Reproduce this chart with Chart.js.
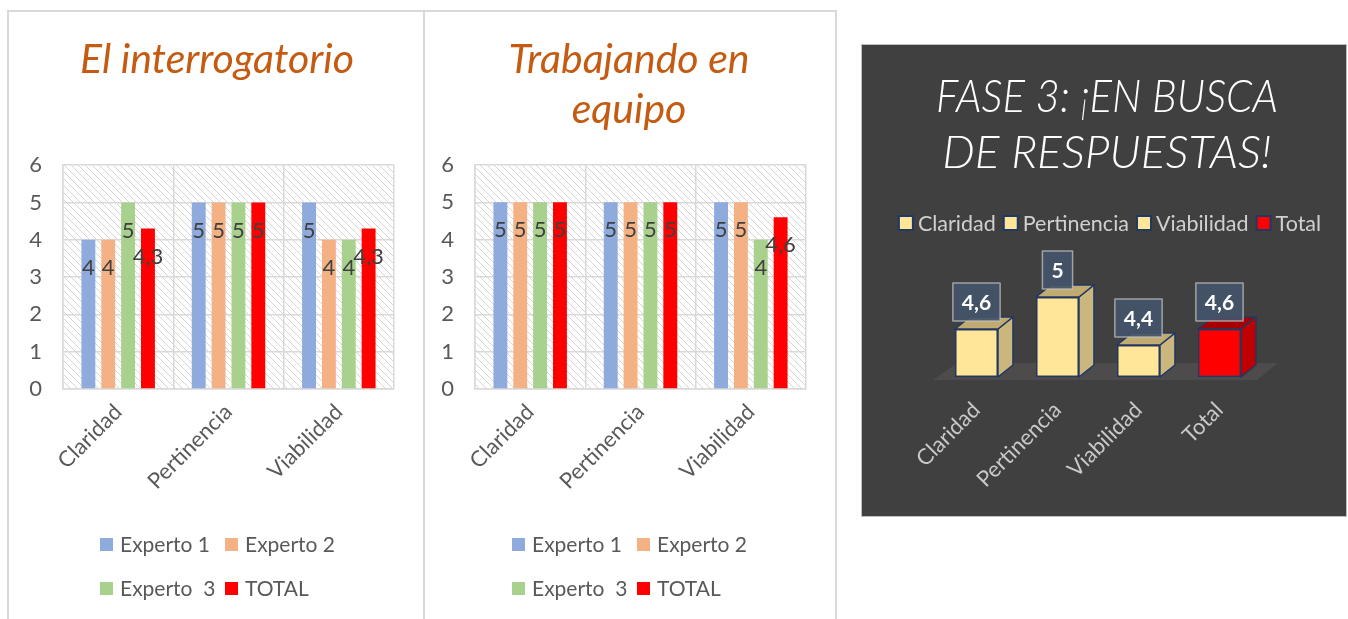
<!DOCTYPE html>
<html>
<head>
<meta charset="utf-8">
<script src="https://cdn.jsdelivr.net/npm/chart.js@4.4.1/dist/chart.umd.min.js"></script>
<style>
  body { margin: 0; background: #fff; width: 1348px; height: 619px; overflow: hidden; position: relative; font-family: Lato, sans-serif; }
  #marco { position: absolute; left: 7px; top: 10px; width: 826px; height: 615px; border: 2px solid #d9d9d9; }
  #divisor { position: absolute; left: 423px; top: 10px; width: 2px; height: 619px; background: #d9d9d9; }
  #panel3 { position: absolute; left: 861px; top: 44px; width: 484px; height: 471px; border: 1px solid #bfbfbf; background: #404040; }
  canvas { position: absolute; }
</style>
</head>
<body>
<div id="marco"></div>
<div id="divisor"></div>
<div id="panel3"></div>
<canvas id="chartInterrogatorio" width="413" height="607" style="left:9px;top:12px"></canvas>
<canvas id="chartEquipo" width="409" height="607" style="left:425px;top:12px"></canvas>
<canvas id="chartFase3" width="484" height="471" style="left:862px;top:45px"></canvas>
<script>
const categorias = ["Claridad", "Pertinencia", "Viabilidad"];
const ticksY = [0, 1, 2, 3, 4, 5, 6];

// El interrogatorio
const experto1Interrogatorio = [4, 5, 5];
const experto2Interrogatorio = [4, 5, 4];
const experto3Interrogatorio = [5, 5, 4];
const totalInterrogatorio = [4.3, 5, 4.3];

// Trabajando en equipo
const experto1Equipo = [5, 5, 5];
const experto2Equipo = [5, 5, 5];
const experto3Equipo = [5, 5, 4];
const totalEquipo = [5, 5, 4.6];

// Fase 3
const categoriasFase3 = ["Claridad", "Pertinencia", "Viabilidad", "Total"];
const valoresFase3 = [4.6, 5, 4.4, 4.6];

const nombresSeries = ["Experto 1", "Experto 2", "Experto  3", "TOTAL"];
const coresSeries = ["#8faadc", "#f4b183", "#a9d18e", "#ff0000"];

const fonte = "Lato, 'Open Sans', sans-serif";

function formatar(v) {
  return String(v).replace(".", ",");
}

function criarTrama(ctx) {
  const c = document.createElement("canvas");
  c.width = 7;
  c.height = 7;
  const g = c.getContext("2d");
  g.strokeStyle = "#d6d6d6";
  g.lineWidth = 1;
  g.beginPath();
  g.moveTo(0, 0); g.lineTo(7, 7);
  g.moveTo(-1, 6); g.lineTo(1, 8);
  g.moveTo(6, -1); g.lineTo(8, 1);
  g.stroke();
  return ctx.createPattern(c, "repeat");
}

const pluginTrama = {
  id: "trama",
  beforeDraw(chart) {
    const a = chart.chartArea;
    const ctx = chart.ctx;
    ctx.save();
    ctx.fillStyle = criarTrama(ctx);
    ctx.fillRect(a.left, a.top, a.right - a.left, a.bottom - a.top);
    ctx.restore();
  }
};

const pluginRotulos = {
  id: "rotulos",
  afterDatasetsDraw(chart) {
    const ctx = chart.ctx;
    ctx.save();
    ctx.font = "22px " + fonte;
    ctx.fillStyle = "#404040";
    ctx.textAlign = "center";
    ctx.textBaseline = "middle";
    chart.data.datasets.forEach((ds, i) => {
      chart.getDatasetMeta(i).data.forEach((bar, j) => {
        ctx.fillText(formatar(ds.data[j]), bar.x, bar.y + 28);
      });
    });
    ctx.restore();
  }
};

// legenda em 2 linhas, como no original
const pluginLegenda = {
  id: "legendaGrade",
  afterDraw(chart, args, opts) {
    const ctx = chart.ctx;
    ctx.save();
    ctx.font = "21px " + fonte;
    ctx.textBaseline = "middle";
    chart.data.datasets.forEach((ds, i) => {
      const x = opts.x + (i % 2) * 125;
      const y = opts.y + Math.floor(i / 2) * 44;
      ctx.fillStyle = ds.backgroundColor;
      ctx.fillRect(x, y - 7, 13, 13);
      ctx.fillStyle = "#595959";
      ctx.fillText(ds.label, x + 20, y);
    });
    ctx.restore();
  }
};

function criarGrafico(id, titulo, series, cfg) {
  const ctx = document.getElementById(id).getContext("2d");
  return new Chart(ctx, {
    type: "bar",
    data: {
      labels: categorias,
      datasets: series.map((dados, i) => ({
        label: nombresSeries[i],
        data: dados,
        backgroundColor: coresSeries[i],
        categoryPercentage: 0.72,
        barPercentage: 0.7
      }))
    },
    options: {
      responsive: false,
      animation: false,
      layout: { padding: { left: 0, right: cfg.direita, top: 0, bottom: 0 } },
      plugins: {
        legend: { display: false },
        tooltip: { enabled: false },
        title: {
          display: true,
          text: titulo,
          color: "#c55a11",
          font: { family: fonte, size: 41, style: "italic", weight: "normal", lineHeight: cfg.alturaLinha },
          padding: { top: cfg.tituloTopo, bottom: cfg.tituloBaixo }
        },
        legendaGrade: { x: cfg.legendaX, y: 533 }
      },
      scales: {
        x: {
          grid: { color: "#d9d9d9", lineWidth: 1.5, drawTicks: false },
          border: { color: "#d9d9d9", width: 1.5 },
          ticks: {
            color: "#595959",
            font: { family: fonte, size: 22 },
            minRotation: 45,
            maxRotation: 45,
            padding: 10
          },
          afterFit: s => { s.height = 230; }
        },
        y: {
          min: 0,
          max: 6,
          afterBuildTicks: s => { s.ticks = ticksY.map(v => ({ value: v })); },
          grid: { color: "#d9d9d9", lineWidth: 1.5, drawTicks: false },
          border: { color: "#d9d9d9", width: 1.5 },
          ticks: {
            color: "#595959",
            font: { family: fonte, size: 22 },
            padding: 21
          },
          afterFit: s => { s.width = cfg.largura; }
        },
        // eixo vazio à direita, só para centrar o título como no original
        margem: {
          position: "right",
          grid: { display: false },
          border: { display: false },
          ticks: { display: false },
          afterFit: s => { s.width = cfg.margem; }
        }
      }
    },
    plugins: [pluginTrama, pluginRotulos, pluginLegenda]
  });
}

criarGrafico("chartInterrogatorio", "El interrogatorio",
  [experto1Interrogatorio, experto2Interrogatorio, experto3Interrogatorio, totalInterrogatorio],
  { direita: -3, margem: 31, largura: 54, tituloTopo: 23, tituloBaixo: 81, alturaLinha: 1.2, legendaX: 91 });

criarGrafico("chartEquipo", ["Trabajando en", "equipo"],
  [experto1Equipo, experto2Equipo, experto3Equipo, totalEquipo],
  { direita: 1, margem: 27, largura: 50, tituloTopo: 23, tituloBaixo: 30, alturaLinha: 50 / 41, legendaX: 87 });

// ---- Fase 3 (barras em 3D) ----
const frenteFase3 = ["#ffe699", "#ffe699", "#ffe699", "#ff0000"];
const ladoFase3 = ["#cbb77d", "#cbb77d", "#cbb77d", "#c00000"];
const topoFase3 = ["#c2ab70", "#c2ab70", "#c2ab70", "#a80000"];
const prof = { dx: 15, dy: 12 };

const pluginPiso = {
  id: "piso",
  beforeDatasetsDraw(chart) {
    const a = chart.chartArea;
    const ctx = chart.ctx;
    ctx.save();
    ctx.fillStyle = "#4d4b4b";
    ctx.beginPath();
    ctx.moveTo(a.left - 3, a.bottom + 3);
    ctx.lineTo(a.right - 3, a.bottom + 3);
    ctx.lineTo(a.right + 18, a.bottom - 14);
    ctx.lineTo(a.left + 21, a.bottom - 14);
    ctx.closePath();
    ctx.fill();
    ctx.restore();
  }
};

const pluginCubos = {
  id: "cubos",
  afterDatasetsDraw(chart) {
    const ctx = chart.ctx;
    ctx.save();
    ctx.strokeStyle = "#203864";
    ctx.lineWidth = 1.5;
    ctx.lineJoin = "round";
    chart.getDatasetMeta(0).data.forEach((bar, j) => {
      const esq = bar.x - bar.width / 2;
      const dir = bar.x + bar.width / 2;
      // lado
      ctx.fillStyle = ladoFase3[j];
      ctx.beginPath();
      ctx.moveTo(dir, bar.y);
      ctx.lineTo(dir + prof.dx, bar.y - prof.dy);
      ctx.lineTo(dir + prof.dx, bar.base - prof.dy);
      ctx.lineTo(dir, bar.base);
      ctx.closePath();
      ctx.fill();
      ctx.stroke();
      // topo
      ctx.fillStyle = topoFase3[j];
      ctx.beginPath();
      ctx.moveTo(esq, bar.y);
      ctx.lineTo(esq + prof.dx, bar.y - prof.dy);
      ctx.lineTo(dir + prof.dx, bar.y - prof.dy);
      ctx.lineTo(dir, bar.y);
      ctx.closePath();
      ctx.fill();
      ctx.stroke();
    });
    // rótulos em caixa
    ctx.font = "bold 21px " + fonte;
    ctx.textAlign = "center";
    ctx.textBaseline = "middle";
    chart.getDatasetMeta(0).data.forEach((bar, j) => {
      const txt = formatar(chart.data.datasets[0].data[j]);
      const w = ctx.measureText(txt).width + 18;
      const h = 38;
      const y0 = bar.y - 8 - h;
      ctx.fillStyle = "rgba(68, 84, 106, 0.92)";
      ctx.fillRect(bar.x - w / 2, y0, w, h);
      ctx.strokeStyle = "rgba(200, 200, 200, 0.7)";
      ctx.lineWidth = 1.5;
      ctx.strokeRect(bar.x - w / 2, y0, w, h);
      ctx.fillStyle = "#ffffff";
      ctx.fillText(txt, bar.x, y0 + h / 2 + 1);
    });
    ctx.restore();
  }
};

const pluginLegendaFase3 = {
  id: "legendaFase3",
  afterDraw(chart) {
    const ctx = chart.ctx;
    ctx.save();
    ctx.font = "21.5px " + fonte;
    ctx.textBaseline = "middle";
    const caixa = 14, gapCaixa = 5, gapItem = 8;
    const larguras = categoriasFase3.map(t => caixa + gapCaixa + ctx.measureText(t).width);
    const total = larguras.reduce((s, w) => s + w, 0) + gapItem * (larguras.length - 1);
    let x = 248 - total / 2;
    const y = 178;
    categoriasFase3.forEach((t, j) => {
      ctx.fillStyle = frenteFase3[j];
      ctx.fillRect(x, y - caixa / 2, caixa, caixa);
      ctx.strokeStyle = "#203864";
      ctx.lineWidth = 2;
      ctx.strokeRect(x, y - caixa / 2, caixa, caixa);
      ctx.fillStyle = "#d0d0d0";
      ctx.fillText(t, x + caixa + gapCaixa, y + 1);
      x += larguras[j] + gapItem;
    });
    ctx.restore();
  }
};

new Chart(document.getElementById("chartFase3").getContext("2d"), {
  type: "bar",
  data: {
    labels: categoriasFase3,
    datasets: [{
      label: "Fase 3",
      data: valoresFase3,
      base: 4,
      backgroundColor: frenteFase3,
      borderColor: "#203864",
      borderWidth: 1.5,
      borderSkipped: false,
      categoryPercentage: 1,
      barPercentage: 0.53
    }]
  },
  options: {
    responsive: false,
    animation: false,
    layout: { padding: { left: 74, right: 68, top: 0, bottom: 0 } },
    plugins: {
      legend: { display: false },
      tooltip: { enabled: false },
      title: {
        display: true,
        text: ["FASE 3: ¡EN BUSCA", "DE RESPUESTAS!"],
        color: "#ffffff",
        font: { family: fonte, size: 46, style: "italic", weight: 300, lineHeight: 56 / 46 },
        padding: { top: 24, bottom: 76 }
      }
    },
    scales: {
      x: {
        grid: { display: false },
        border: { display: false },
        ticks: {
          color: "#c8c8c8",
          font: { family: fonte, size: 22 },
          minRotation: 45,
          maxRotation: 45,
          padding: 12
        },
        afterFit: s => { s.height = 139; }
      },
      y: {
        position: "right",
        min: 4,
        max: 5.5,
        grid: { display: false },
        border: { display: false },
        ticks: { display: false },
        afterFit: s => { s.width = 18; }
      }
    }
  },
  plugins: [pluginPiso, pluginCubos, pluginLegendaFase3]
});
</script>
</body>
</html>
